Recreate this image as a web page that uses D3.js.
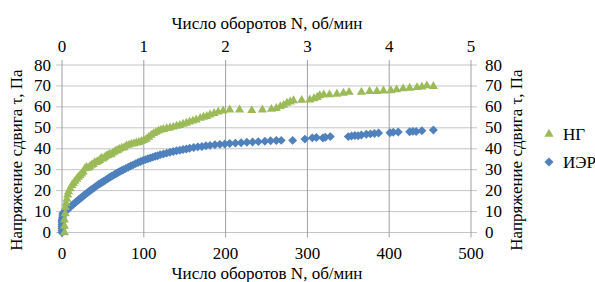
<!DOCTYPE html>
<html><head><meta charset="utf-8"><script src="https://cdn.jsdelivr.net/npm/d3@7"></script></head>
<body style="margin:0">
<script>
// rpm on bottom axis, stress in Pa
const ierN = [0,0,0,0,0,0,0,0.5,1,1,2,3,5,7,9,11,13,15,17,19,21,23,25,27,29,31,33,35,37,39,41,43,45,47,49,51,53,55,57,59,61,63,65,67,69,71,73,75,78,81,84,87,90,93,96,99,102,105,108,111,114,117,120,124,128,132,136,140,144,148,152,156,161,166,171,176,181,187,193,199,205,212,219,226,233,240,248,255,262,268,282,297,306,311,319,322,328,350,354,358,362,366,372,377,382,387,401,405,411,425,429,433,440,454];
const ierTau = [0,1,2,3,4,5,6,7,8,9,9.5,10,10.5,11,11.8,12.5,13.2,13.9,14.6,15.2,15.9,16.5,17.1,17.8,18.4,19,19.6,20.2,20.8,21.3,21.9,22.5,23,23.5,24,24.5,25,25.5,26,26.5,27,27.4,27.9,28.3,28.8,29.2,29.6,30,30.6,31.2,31.8,32.3,32.9,33.4,33.9,34.4,34.8,35.2,35.6,36,36.4,36.7,37.1,37.5,37.9,38.3,38.7,39,39.3,39.6,39.9,40.2,40.6,40.9,41.1,41.4,41.6,41.9,42.1,42.3,42.5,42.7,42.9,43.1,43.2,43.4,43.6,43.8,43.9,44,44,44.6,45.2,45.4,45.1,45.5,45.8,45.8,46.1,46.3,46.2,46.6,46.9,47.1,47.3,47.5,47.6,47.9,48,48.1,48.3,48.2,48.6,49];

const ngN = [3,3,3,4,4,5,6,7,8,10,12,14,16,18,20,22,24,26,28,30,32,34,36,38,40,42,44,46,48,50,52,54,56,58,60,62,64,66,68,70,73,76,79,82,85,88,91,94,97,100,103,106,109,112,115,118,121,124,128,132,136,140,144,148,152,156,160,164,169,173,177,181,186,191,197,205,217,232,245,256,262,267,271,275,279,283,293,303,308,312,315,320,327,336,344,351,366,376,385,393,402,409,417,425,434,440,446,454];
const ngTau = [0,3,6,9,12,14,16,18,19.5,21,22.5,23.5,24.5,25.5,26.5,27.2,28,29,30.5,31.2,30.8,31.5,32.2,32.6,33.4,33.5,34,34.5,35.5,35.2,35.8,36.5,36.8,37.5,37.2,38,38.5,39,39.2,39.8,40.3,40.6,41.5,41.8,42.3,42.5,42.8,43.1,43.5,44,44.6,45.5,46.5,47.3,47.9,48.6,49,49.3,49.7,50,50.4,50.8,51.2,51.8,52.3,52.8,53.3,53.8,54.6,55.1,55.5,56.2,56.9,57.6,58.1,58.6,58.6,58.3,58.6,58.9,59.3,60.2,60.8,61.8,62.4,63,63.2,63.4,64,64.6,65.4,65.8,65.8,66.1,66.6,67,67,67.4,67.4,67.7,67.8,68.2,68.7,69,69.3,69.5,70.1,69.8];

const bottomTicks = [0, 100, 200, 300, 400, 500];
const topTicks = [0, 1, 2, 3, 4, 5];
const yTicks = [0, 10, 20, 30, 40, 50, 60, 70, 80];

const xTitle = "Число оборотов N, об/мин";
const yTitle = "Напряжение сдвига τ, Па";
const seriesNames = ["НГ", "ИЭР"];
const colors = { "НГ": "#9bbb59", "ИЭР": "#4f81bd" };

const W = 595, H = 282;
const pL = 62, pR = 471, pT = 65, pB = 232.5;

const svg = d3.select("body").append("svg")
  .attr("width", W).attr("height", H);

const x = d3.scaleLinear().domain([0, 500]).range([pL, pR]);
const xTop = d3.scaleLinear().domain([0, 5]).range([pL, pR]);
const y = d3.scaleLinear().domain([0, 80]).range([pB, pT]);

// horizontal grid (extends out as tick marks on both sides)
svg.append("g").selectAll("line")
  .data(yTicks).enter().append("line")
  .attr("x1", pL - 6).attr("x2", pR + 6)
  .attr("y1", d => y(d)).attr("y2", d => y(d))
  .attr("stroke", "#c4c4c4").attr("stroke-width", 1);

// vertical grid
svg.append("g").selectAll("line")
  .data(bottomTicks).enter().append("line")
  .attr("x1", d => x(d)).attr("x2", d => x(d))
  .attr("y1", pT - 5).attr("y2", pB + 5)
  .attr("stroke", "#a0a0a0").attr("stroke-width", 1);

function label(sel) {
  sel.attr("font-family", d => "'Liberation Serif'").attr("font-size", 17);
}

// tick labels
svg.append("g").selectAll("text")
  .data(bottomTicks).enter().append("text")
  .attr("x", d => x(d)).attr("y", 259)
  .attr("text-anchor", "middle").call(label)
  .text(d => d);

svg.append("g").selectAll("text")
  .data(topTicks).enter().append("text")
  .attr("x", d => xTop(d)).attr("y", 51.5)
  .attr("text-anchor", "middle").call(label)
  .text(d => d);

svg.append("g").selectAll("text")
  .data(yTicks).enter().append("text")
  .attr("x", 51).attr("y", d => y(d) + 5.5)
  .attr("text-anchor", "end").call(label)
  .text(d => d);

svg.append("g").selectAll("text")
  .data(yTicks).enter().append("text")
  .attr("x", 485).attr("y", d => y(d) + 5.5)
  .attr("text-anchor", "start").call(label)
  .text(d => d);

// titles
svg.append("text").attr("x", 267).attr("y", 29)
  .attr("text-anchor", "middle").call(label).text(xTitle);
svg.append("text").attr("x", 267).attr("y", 279)
  .attr("text-anchor", "middle").call(label).text(xTitle);
svg.append("text")
  .attr("transform", `translate(22,160) rotate(-90)`)
  .attr("text-anchor", "middle").call(label).text(yTitle);
svg.append("text")
  .attr("transform", `translate(522,160) rotate(-90)`)
  .attr("text-anchor", "middle").call(label).text(yTitle);

// markers
const tri = d3.symbol().type(d3.symbolTriangle).size(36);
const sq = d3.symbol().type(d3.symbolSquare).size(40);

const ierPts = ierN.map((n, i) => [n, ierTau[i]]);
const ngPts = ngN.map((n, i) => [n, ngTau[i]]);

svg.append("g").selectAll("path")
  .data(ierPts).enter().append("path")
  .attr("d", sq)
  .attr("transform", d => `translate(${x(d[0])},${y(d[1])}) rotate(45)`)
  .attr("fill", colors["ИЭР"]);

svg.append("g").selectAll("path")
  .data(ngPts).enter().append("path")
  .attr("d", tri)
  .attr("transform", d => `translate(${x(d[0])},${y(d[1])})`)
  .attr("fill", colors["НГ"]);

// legend
const legend = svg.append("g").selectAll("g")
  .data(seriesNames).enter().append("g")
  .attr("transform", (d, i) => `translate(549,${134 + i * 28})`);
legend.append("path")
  .attr("d", (d, i) => (i === 0 ? tri : sq)())
  .attr("transform", (d, i) => (i === 0 ? null : "rotate(45)"))
  .attr("fill", d => colors[d]);
legend.append("text").attr("x", 14).attr("y", 6)
  .call(label).text(d => d);
</script>
</body></html>
